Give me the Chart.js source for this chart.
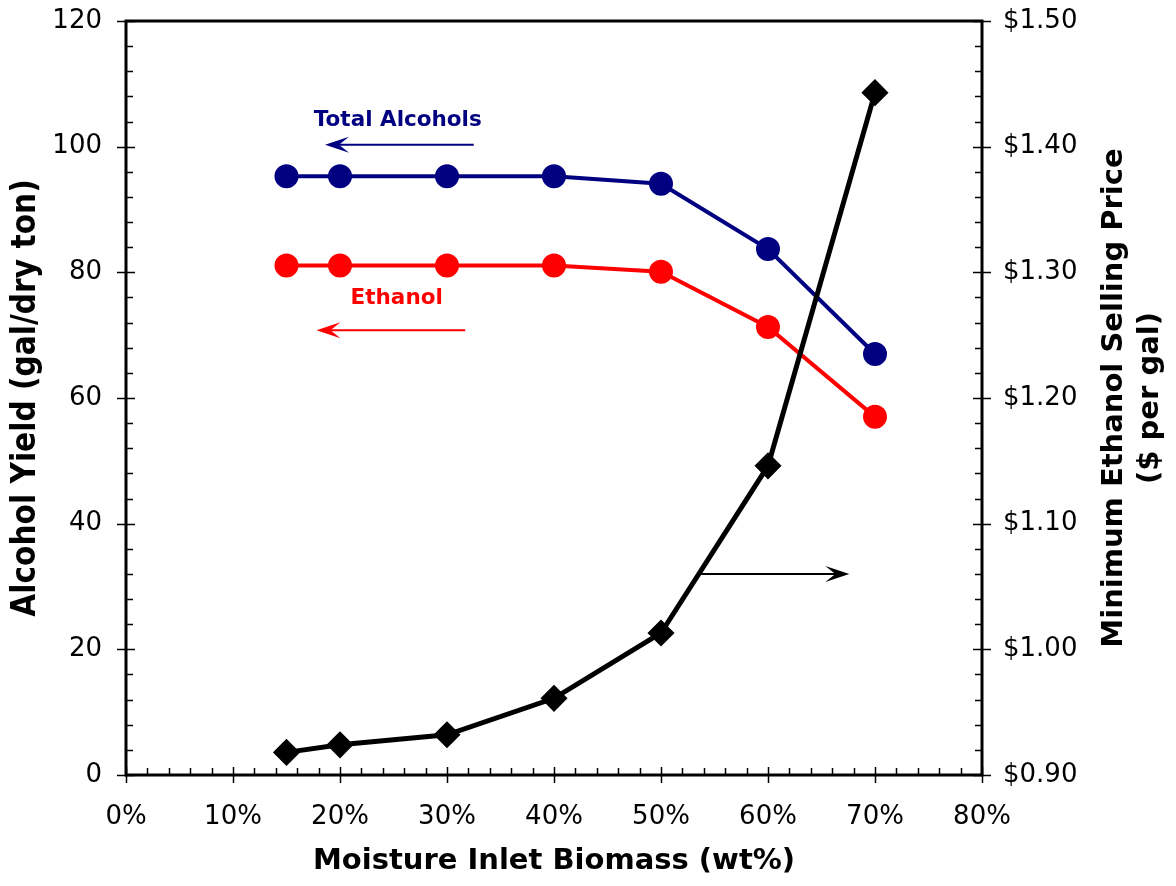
<!DOCTYPE html>
<html>
<head>
<meta charset="utf-8">
<script src="https://cdn.jsdelivr.net/npm/chart.js@4/dist/chart.umd.min.js"></script>
<style>
  html, body { margin: 0; padding: 0; background: #fff; }
  #wrap { width: 1176px; height: 886px; }
</style>
</head>
<body>
<div id="wrap"><canvas id="chart" width="1176" height="886"></canvas></div>
<script>
// ===== data =====
const moisture = [15, 20, 30, 40, 50, 60, 70];          // wt%
const totalAlcohols = [95.3, 95.3, 95.3, 95.3, 94.1, 83.7, 67.0];
const ethanol = [81.1, 81.1, 81.1, 81.1, 80.1, 71.3, 57.0];
const mesp = [0.918, 0.924, 0.932, 0.961, 1.013, 1.146, 1.443]; // $/gal

const xTitle = 'Moisture Inlet Biomass (wt%)';
const yTitle = 'Alcohol Yield (gal/dry ton)';
const y2Title = ['Minimum Ethanol Selling Price', '($ per gal)'];

function pts(ys) {
    return moisture.map(function(m, i) { return { x: m, y: ys[i] }; });
}

// frame + tick marks (major ticks cross the axis, minor ticks point inward)
const frameTicks = {
    id: 'frameTicks',
    beforeDatasetsDraw(chart) {
        const ctx = chart.ctx;
        const a = chart.chartArea;
        const sx = chart.scales.x, sy = chart.scales.y, sy2 = chart.scales.y2;
        ctx.save();
        ctx.strokeStyle = '#000';
        ctx.lineWidth = 1.5;
        ctx.beginPath();
        for (let v = 0; v <= 80; v += 2) {
            const px = Math.round(sx.getPixelForValue(v)) + 0.5;
            const major = v % 10 === 0;
            ctx.moveTo(px, a.bottom + (major ? 8 : 0));
            ctx.lineTo(px, a.bottom - (major ? 8 : 7));
        }
        for (let v = 0; v <= 120; v += 4) {
            const py = Math.round(sy.getPixelForValue(v)) + 0.5;
            const major = v % 20 === 0;
            ctx.moveTo(a.left - (major ? 9 : 0), py);
            ctx.lineTo(a.left + (major ? 9 : 7), py);
        }
        for (let c = 90; c <= 150; c += 2) {
            const py = Math.round(sy2.getPixelForValue(c / 100)) + 0.5;
            const major = c % 10 === 0;
            ctx.moveTo(a.right + (major ? 9 : 0), py);
            ctx.lineTo(a.right - (major ? 9 : 7), py);
        }
        ctx.stroke();
        ctx.lineWidth = 3;
        ctx.strokeRect(a.left, a.top, a.right - a.left, a.bottom - a.top);
        ctx.restore();
    }
};

function arrow(ctx, x1, x2, y, color) {
    const dir = x2 > x1 ? 1 : -1;
    ctx.strokeStyle = color;
    ctx.fillStyle = color;
    ctx.lineWidth = 2;
    ctx.beginPath();
    ctx.moveTo(x1, y);
    ctx.lineTo(x2 - dir * 6, y);
    ctx.stroke();
    ctx.beginPath();
    ctx.moveTo(x2, y);
    ctx.lineTo(x2 - dir * 24, y - 8);
    ctx.lineTo(x2 - dir * 14, y);
    ctx.lineTo(x2 - dir * 24, y + 8);
    ctx.closePath();
    ctx.fill();
}

// in-plot labels and arrows, placed in data coordinates
const notes = {
    id: 'notes',
    afterDatasetsDraw(chart) {
        const ctx = chart.ctx;
        const sx = chart.scales.x, sy = chart.scales.y;
        ctx.save();
        ctx.textAlign = 'center';
        ctx.textBaseline = 'middle';
        ctx.font = 'bold 21.5px "DejaVu Sans"';
        ctx.fillStyle = '#000080';
        ctx.fillText('Total Alcohols', sx.getPixelForValue(25.4), sy.getPixelForValue(104.1));
        arrow(ctx, sx.getPixelForValue(32.5), sx.getPixelForValue(18.6), sy.getPixelForValue(100.3), '#000080');
        ctx.fillStyle = '#ff0000';
        ctx.fillText('Ethanol', sx.getPixelForValue(25.3), sy.getPixelForValue(75.8));
        arrow(ctx, sx.getPixelForValue(31.7), sx.getPixelForValue(17.8), sy.getPixelForValue(70.8), '#ff0000');
        arrow(ctx, sx.getPixelForValue(53.6), sx.getPixelForValue(67.6), sy.getPixelForValue(32.0), '#000');

        // right axis title reads bottom to top
        const a = chart.chartArea;
        const cy = (a.top + a.bottom) / 2;
        ctx.fillStyle = '#000';
        ctx.font = 'bold 29px "DejaVu Sans"';
        ctx.translate(1114, cy);
        ctx.rotate(-Math.PI / 2);
        ctx.fillText(y2Title[0], 0, 0);
        ctx.fillText(y2Title[1], 0, 36);
        ctx.restore();
    }
};

new Chart(document.getElementById('chart'), {
    type: 'line',
    data: {
        datasets: [{
            label: 'Minimum Ethanol Selling Price',
            data: pts(mesp),
            yAxisID: 'y2',
            borderColor: '#000',
            backgroundColor: '#000',
            borderWidth: 5,
            pointStyle: 'rectRot',
            pointRadius: 10,
            pointHoverRadius: 10,
            order: 0
        }, {
            label: 'Total Alcohols',
            data: pts(totalAlcohols),
            yAxisID: 'y',
            borderColor: '#000080',
            backgroundColor: '#000080',
            borderWidth: 4,
            pointRadius: 10,
            pointHoverRadius: 10,
            order: 1
        }, {
            label: 'Ethanol',
            data: pts(ethanol),
            yAxisID: 'y',
            borderColor: '#ff0000',
            backgroundColor: '#ff0000',
            borderWidth: 4,
            pointRadius: 10,
            pointHoverRadius: 10,
            order: 2
        }]
    },
    options: {
        responsive: false,
        animation: false,
        layout: { padding: { top: 21, left: 0, right: 0, bottom: 0 } },
        plugins: { legend: { display: false }, tooltip: { enabled: false } },
        scales: {
            x: {
                type: 'linear', min: 0, max: 80,
                grid: { display: false, drawTicks: false },
                border: { display: false },
                ticks: {
                    stepSize: 10, padding: 27, color: '#000',
                    font: { family: 'DejaVu Sans', size: 26 },
                    callback: function(v) { return v + '%'; }
                },
                title: {
                    display: true, text: xTitle, color: '#000',
                    font: { family: 'DejaVu Sans', size: 29, weight: 'bold' },
                    padding: { top: 0, bottom: 7 }
                },
                afterFit: function(s) { s.height = 111; }
            },
            y: {
                position: 'left', min: 0, max: 120,
                grid: { display: false, drawTicks: false },
                border: { display: false },
                ticks: {
                    stepSize: 20, padding: 24, color: '#000',
                    font: { family: 'DejaVu Sans', size: 26 }
                },
                title: {
                    display: true, text: yTitle, color: '#000',
                    font: { family: 'DejaVu Sans Condensed', size: 33, weight: 'bold' },
                    padding: { top: 7, bottom: 0 }
                },
                afterFit: function(s) { s.width = 126; s.paddingTop = 0; s.paddingBottom = 0; }
            },
            y2: {
                position: 'right', min: 0.9, max: 1.5,
                grid: { display: false, drawTicks: false },
                border: { display: false },
                ticks: {
                    stepSize: 0.1, padding: 21, color: '#000',
                    font: { family: 'DejaVu Sans', size: 26 },
                    callback: function(v) { return '$' + v.toFixed(2); }
                },
                afterFit: function(s) { s.width = 194; s.paddingTop = 0; s.paddingBottom = 0; }
            }
        }
    },
    plugins: [frameTicks, notes]
});
</script>
</body>
</html>
